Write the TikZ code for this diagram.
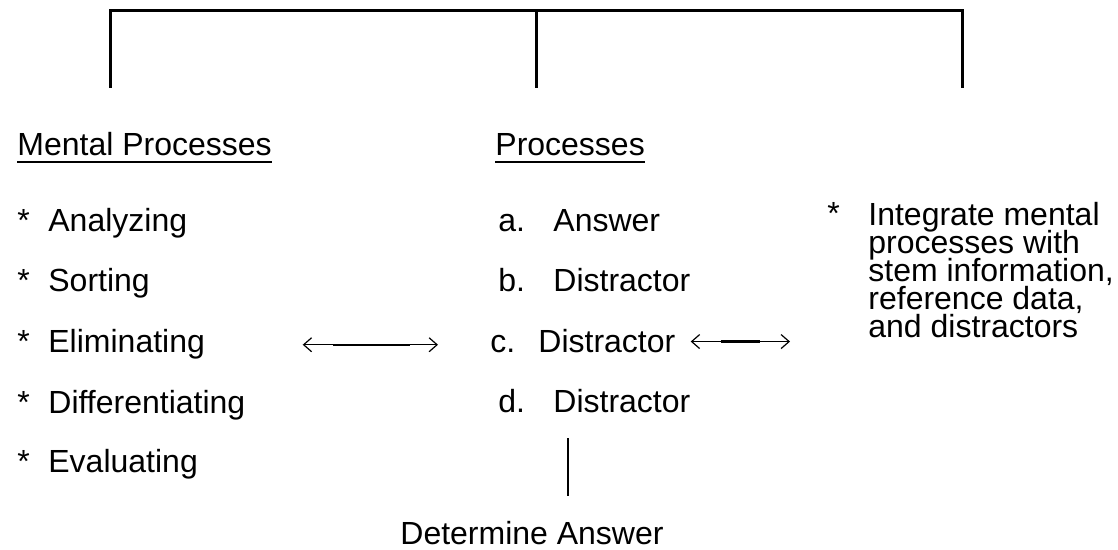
\documentclass[tikz,border=0pt]{standalone}
\usepackage{fontspec}
\setmainfont{Liberation Sans}
\usepackage{tikz}
\usetikzlibrary{arrows.meta, calc}
\setlength{\lineskiplimit}{-20pt}
\tikzset{
    % Text styles
    txt/.style={inner sep=0pt, anchor=base west, font=\fontsize{16}{19}\selectfont},
    block text/.style={txt, anchor=north west, align=left,
                       font=\fontsize{16}{14}\selectfont},
    % Line styles
    bracket/.style={line width=1.5pt},
    stem/.style={line width=1pt},
    twoway/.style={{Straight Barb[length=4pt, width=7pt]}-{Straight Barb[length=4pt, width=7pt]},
                   line width=0.6pt},
    twoway core/.style={line width=1.2pt},
}
\newcommand{\headtext}[1]{\setbox0\hbox{#1}\rlap{\raisebox{-3.4pt}{\rule{\wd0}{1pt}}}\box0}

\begin{document}
\begin{tikzpicture}[x=0.5pt, y=-0.5pt]
    \useasboundingbox (0,0) rectangle (1118,550);

    % Top bracket
    \coordinate (top) at (536,11);
    \coordinate (bl) at (110,88);
    \coordinate (bm) at (536,88);
    \coordinate (br) at (962,88);
    \draw[bracket] (bl) |- (top) -| (br);
    \draw[bracket] (top) -- (bm);

    % Headings
    \node[txt] (mental) at (17,156) {\headtext{Mental Processes}};
    \node[txt] (proc) at (495,156) {\headtext{Processes}};

    % Mental processes
    \node[txt] (s1) at (17,232) {*};
    \node[txt] (analyze) at (48,232) {Analyzing};
    \node[txt] (s2) at (17,292) {*};
    \node[txt] (sort) at (48,292) {Sorting};
    \node[txt] (s3) at (17,353) {*};
    \node[txt] (elim) at (48,353) {Eliminating};
    \node[txt] (s4) at (17,413) {*};
    \node[txt] (diff) at (48,413) {Differentiating};
    \node[txt] (s5) at (17,472) {*};
    \node[txt] (eval) at (48,472) {Evaluating};

    % Options
    \node[txt] (la) at (498,232) {a.};
    \node[txt] (answer) at (553,232) {Answer};
    \node[txt] (lb) at (498,292) {b.};
    \node[txt] (distb) at (553,292) {Distractor};
    \node[txt] (lc) at (490,353) {c.};
    \node[txt] (distc) at (538,353) {Distractor};
    \node[txt] (ld) at (498,412) {d.};
    \node[txt] (distd) at (553,412) {Distractor};

    % Integration
    \node[txt] (s6) at (827,225) {*};
    \node[block text] (integ) at (868,202) {Integrate mental\\processes with\\stem information,\\reference data,\\and distractors};

    % Result
    \node[txt, anchor=base] (detans) at (532,544) {Determine Answer};
    \coordinate (stemtop) at (568,438);

    % Arrows
    \draw[twoway, shorten <=48.7pt, shorten >=26pt] (elim.east) -- (elim.east -| lc.west);
    \draw[twoway core, shorten <=63.7pt, shorten >=40pt] (elim.east) -- (elim.east -| lc.west);
    \draw[twoway, shorten <=7.5pt, shorten >=39pt] (distc.east) -- (distc.east -| integ.west);
    \draw[twoway core, shorten <=22.5pt, shorten >=54pt] (distc.east) -- (distc.east -| integ.west);
    \draw[stem, shorten >=12pt] (stemtop) -- (stemtop |- detans.north);
\end{tikzpicture}
\end{document}
